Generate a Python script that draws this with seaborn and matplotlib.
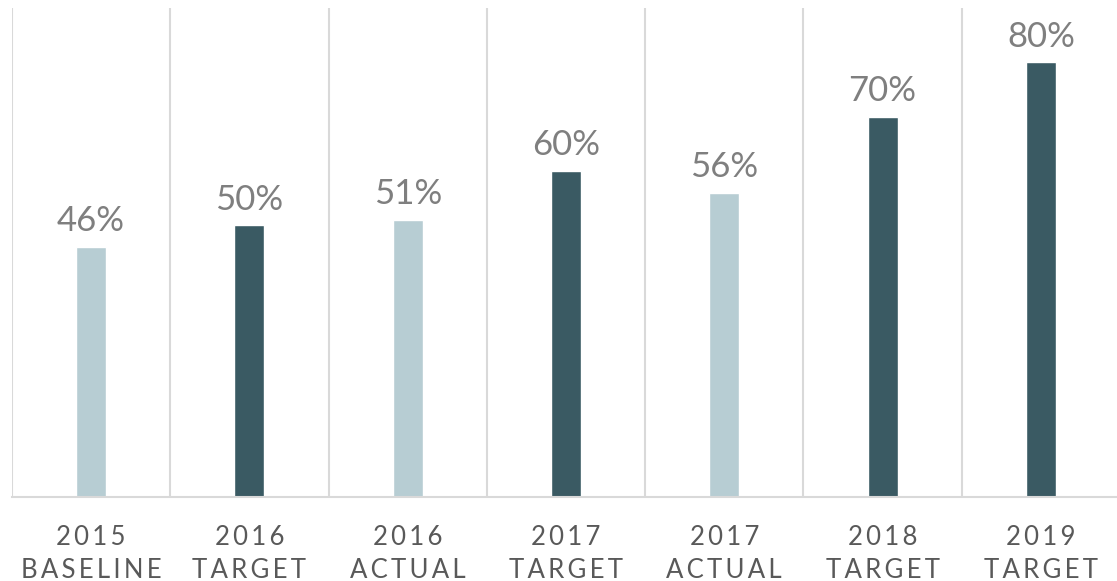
import numpy as np
import pandas as pd
import matplotlib
matplotlib.use("Agg")
import matplotlib.pyplot as plt
import seaborn as sns

# chart values
years = ["2015", "2016", "2016", "2017", "2017", "2018", "2019"]
kinds = ["BASELINE", "TARGET", "ACTUAL", "TARGET", "ACTUAL", "TARGET", "TARGET"]
values = [46, 50, 51, 60, 56, 70, 80]

light = "#b7cdd3"
dark = "#3a5a63"

df = pd.DataFrame({
    "cat": [f"{y}\n{k}" for y, k in zip(years, kinds)],
    "value": values,
    "group": ["light" if k in ("BASELINE", "ACTUAL") else "dark" for k in kinds],
})

sns.set_style("white")
plt.rcParams["font.family"] = ["Lato", "DejaVu Sans"]

fig = plt.figure(figsize=(11.17, 5.81), dpi=100)
ax = fig.add_axes([12 / 1117, 84 / 581, 1108 / 1117, 489 / 581])

sns.barplot(data=df, x="cat", y="value", hue="group",
            palette={"light": light, "dark": dark}, saturation=1,
            width=0.19, dodge=False, legend=False, ax=ax)

ax.set_ylim(0, 90)
ax.set_xlim(-0.5, len(values) - 0.5)
ax.set_yticks([])
ax.set_xlabel("")
ax.set_ylabel("")

# vertical separators between categories
ax.set_xticks(np.arange(-0.5, len(values), 1.0), minor=True)
ax.grid(True, which="minor", axis="x", color="#d9d9d9", linewidth=1.5)
ax.tick_params(axis="x", which="both", length=0, pad=20)

spaced = ["\u2009".join(y) + "\n" + "\u2009".join(k) for y, k in zip(years, kinds)]
ax.set_xticks(range(len(values)))
ax.set_xticklabels(spaced, fontsize=18.5, color="#595959", linespacing=1.4)

for s in ["top", "right", "left"]:
    ax.spines[s].set_visible(False)
ax.spines["bottom"].set_color("#d9d9d9")
ax.spines["bottom"].set_linewidth(1.5)

for i, v in enumerate(values):
    ax.annotate(f"{v}%", (i, v), xytext=(0, 7), textcoords="offset points",
                ha="center", va="bottom", fontsize=25, color="#7f7f7f")

fig.savefig("out.png", dpi=100)
